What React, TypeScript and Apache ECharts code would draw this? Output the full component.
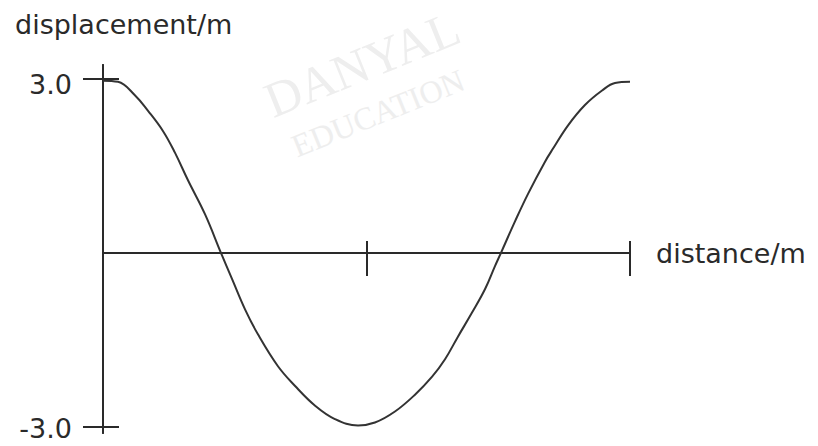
import React, { useEffect, useRef } from "react";
import * as echarts from "echarts";

// distance (arbitrary units: mid tick = 1, end tick = 2)
const distance = [
  0.0, 0.057, 0.121, 0.171, 0.228, 0.273, 0.323, 0.387, 0.448, 0.49, 0.539, 0.588,
  0.664, 0.729, 0.805, 0.88, 0.968, 1.032, 1.108, 1.184, 1.249, 1.298, 1.347, 1.4,
  1.45, 1.488, 1.51, 1.564, 1.613, 1.677, 1.708, 1.765, 1.829, 1.894, 1.943, 2.0,
];
// displacement / m
const displacement = [
  2.97, 2.95, 2.72, 2.45, 2.1, 1.73, 1.25, 0.67, 0.0, -0.45, -0.97, -1.4,
  -1.95, -2.29, -2.63, -2.86, -2.97, -2.92, -2.73, -2.44, -2.13, -1.83, -1.44, -1.03,
  -0.62, -0.22, 0.0, 0.55, 1.02, 1.57, 1.8, 2.2, 2.55, 2.8, 2.93, 2.95,
];
const yTickValues = [-3, 3];
const xTickValues = [1, 2];
const yTitle = "displacement/m";
const xTitle = "distance/m";

const INK = "#2a2a2a";
const FONT = "DejaVu Sans";

export default function App() {
  const ref = useRef<HTMLDivElement>(null);
  useEffect(() => {
    if (!ref.current) return;
    const chart = echarts.init(ref.current, null, { renderer: "svg" });
    const commonX = {
      type: "value" as const,
      min: 0,
      max: 2,
      position: "bottom" as const,
      splitLine: { show: false },
      axisLabel: { show: false },
    };
    const commonY = {
      type: "value" as const,
      min: -3.1,
      max: 3.24,
      position: "left" as const,
      splitLine: { show: false },
    };
    const labelFont = { fontFamily: FONT, fontSize: 27, color: INK };
    chart.setOption({
      animation: false,
      backgroundColor: "#ffffff",
      title: {
        text: yTitle,
        left: 10,
        top: 6,
        textStyle: { fontFamily: FONT, fontSize: 27, fontWeight: "normal", color: INK },
      },
      grid: { left: 103, right: 188, top: 65, bottom: 13, containLabel: false, outerBoundsMode: "none" },
      xAxis: [
        {
          ...commonX,
          axisLine: { show: true, onZero: true, onZeroAxisIndex: 0, lineStyle: { color: INK, width: 2 } },
          axisTick: { show: true, customValues: xTickValues, inside: false, length: 23, lineStyle: { color: INK, width: 2 } },
          name: xTitle,
          nameLocation: "end",
          nameGap: 26,
          nameTextStyle: { ...labelFont, align: "left", padding: [8, 0, 0, 0] },
        },
        {
          ...commonX,
          axisLine: { show: true, onZero: true, onZeroAxisIndex: 0, lineStyle: { color: INK, width: 2 } },
          axisTick: { show: true, customValues: xTickValues, inside: true, length: 12, lineStyle: { color: INK, width: 2 } },
        },
      ],
      yAxis: [
        {
          ...commonY,
          axisLine: { show: true, lineStyle: { color: INK, width: 2 } },
          axisTick: { show: true, customValues: yTickValues, inside: false, length: 20, lineStyle: { color: INK, width: 2 } },
          axisLabel: {
            show: true,
            customValues: yTickValues,
            formatter: (v: number) => (v > 0 ? `{hi|${v.toFixed(1)}}` : `{lo|${v.toFixed(1)}}`),
            margin: 31,
            ...labelFont,
            rich: {
              hi: { ...labelFont, padding: [12, 0, 0, 0] },
              lo: { ...labelFont, padding: [2, 0, 0, 0] },
            },
          },
        },
        {
          ...commonY,
          axisLine: { show: true, lineStyle: { color: INK, width: 2 } },
          axisTick: { show: true, customValues: yTickValues, inside: true, length: 16, lineStyle: { color: INK, width: 2 } },
          axisLabel: { show: false },
        },
      ],
      graphic: [
        {
          type: "text",
          x: 362,
          y: 64,
          rotation: 0.384,
          silent: true,
          z: -1,
          style: {
            text: "DANYAL",
            fontFamily: "Liberation Serif",
            fontSize: 50,
            fill: "#eeeeee",
            align: "center",
            verticalAlign: "middle",
          },
        },
        {
          type: "text",
          x: 378,
          y: 113,
          rotation: 0.384,
          silent: true,
          z: -1,
          style: {
            text: "EDUCATION",
            fontFamily: "Liberation Serif",
            fontSize: 32,
            fill: "#eeeeee",
            align: "center",
            verticalAlign: "middle",
          },
        },
      ],
      series: [
        {
          type: "line",
          xAxisIndex: 0,
          yAxisIndex: 0,
          data: distance.map((d, i) => [d, displacement[i]]),
          showSymbol: false,
          smooth: 0.4,
          lineStyle: { color: "#333333", width: 2 },
          z: 3,
        },
      ],
    });
    return () => chart.dispose();
  }, []);
  return (
    <div
      ref={ref}
      style={{ position: "absolute", left: 0, top: 0, width: 818, height: 446 }}
    />
  );
}
